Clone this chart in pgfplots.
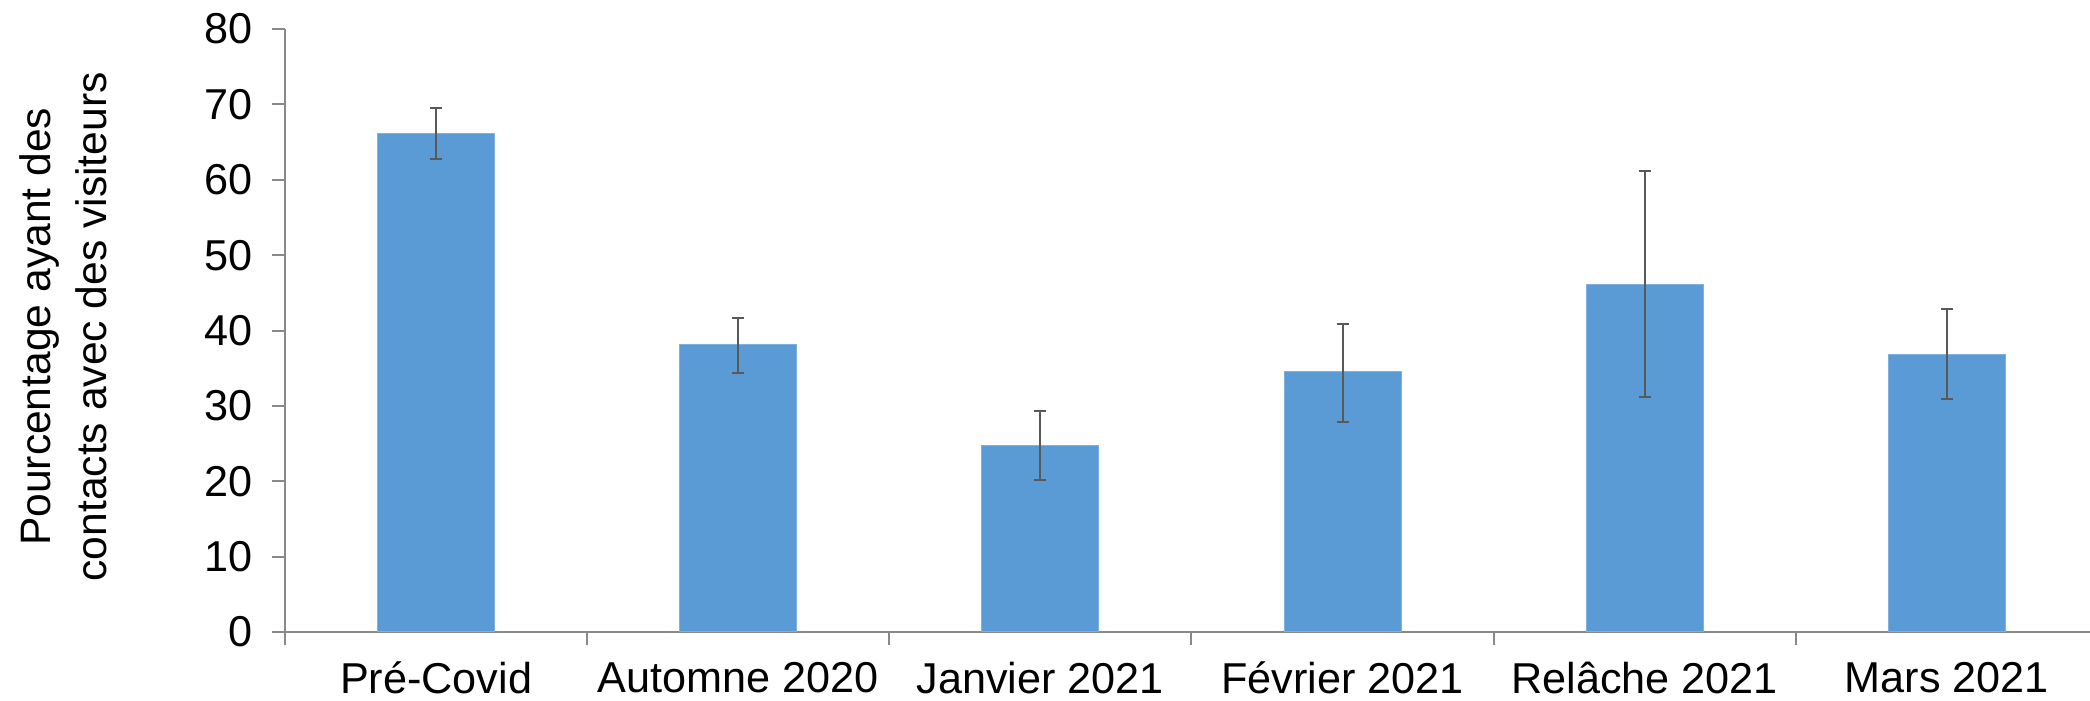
\documentclass[border=0pt]{standalone}
\usepackage{pgfplots}
\pgfplotsset{compat=1.18}
\usepackage{fontspec}
\setmainfont{Liberation Sans}
\definecolor{barblue}{HTML}{5B9BD5}
\definecolor{baredge}{HTML}{7FB1E0}
\definecolor{errgray}{HTML}{595959}
\definecolor{axgray}{HTML}{898989}
\begin{document}
\begin{tikzpicture}
\begin{axis}[
  scale only axis,
  width=906.5pt, height=301.5pt,
  xmin=-0.5, xmax=5.5,
  ymin=0, ymax=80,
  ytick={0,10,...,80},
  xtick={0,1,2,3,4,5},
  xticklabels={Pré-Covid, Automne 2020, Janvier 2021, Février 2021, Relâche 2021, Mars 2021},
  minor xtick={-0.5,0.5,1.5,2.5,3.5,4.5,5.5},
  major x tick style={draw=none},
  minor tick length=6.5pt,
  major tick length=6.5pt,
  tick align=outside,
  axis x line*=bottom,
  axis y line*=left,
  axis line style={axgray, line width=1pt},
  every tick/.style={axgray, line width=1pt},
  tick label style={font=\fontsize{21.6}{26}\selectfont, text=black},
  /pgf/number format/assume math mode=true,
  yticklabel style={xshift=-6pt},
  xticklabel style={yshift=-5pt},
  ylabel={Pourcentage ayant des\\contacts avec des visiteurs},
  y label style={at={(axis description cs:-0.1222,0.506)}, anchor=center, align=center, font=\fontsize{21.3}{28}\selectfont},
  clip=false,
]
\addplot[ybar, bar width=58.5pt, fill=barblue, draw=baredge, line width=0.5pt,
  error bars/.cd, y dir=both, y explicit,
  error bar style={errgray, line width=1pt},
  error mark options={rotate=90, mark size=3pt, errgray, line width=1pt}]
coordinates {
  (0,66.1) += (0,3.4) -= (0,3.3)
  (1,38.1) += (0,3.6) -= (0,3.7)
  (2,24.7) += (0,4.6) -= (0,4.6)
  (3,34.5) += (0,6.4) -= (0,6.6)
  (4,46.1) += (0,15.0) -= (0,14.9)
  (5,36.8) += (0,6.0) -= (0,5.9)
};
\end{axis}
\pgfresetboundingbox
\path[use as bounding box] (-142.5pt,-34.5pt) rectangle (902.5pt,316pt);
\end{tikzpicture}
\end{document}
